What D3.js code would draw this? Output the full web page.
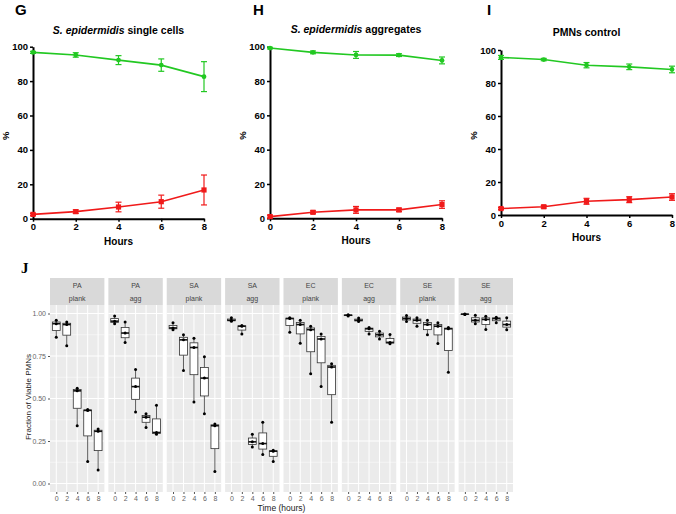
<!DOCTYPE html>
<html>
<head>
<script src="https://d3js.org/d3.v7.min.js"></script>
<style>body{margin:0;background:#fff}</style>
</head>
<body>
<svg width="676" height="514"></svg>
<script>
// ---- data: line panels (G, H, I) ----
var hours = [0, 2, 4, 6, 8];
var yTicks = [0, 20, 40, 60, 80, 100];

var gGreen = [96.7, 95.2, 92.2, 89.3, 82.6];
var gGreenErr = [0.6, 1.3, 2.6, 3.6, 8.7];
var gRed = [2.5, 4.1, 6.8, 9.9, 16.7];
var gRedErr = [0.6, 1.0, 2.8, 3.8, 8.7];

var hGreen = [99.2, 96.7, 95.2, 95.1, 92.0];
var hGreenErr = [0.5, 0.8, 2.0, 0.8, 2.0];
var hRed = [1.0, 3.5, 4.9, 4.9, 8.0];
var hRedErr = [0.8, 0.8, 2.0, 1.0, 2.2];

var iGreen = [95.5, 94.2, 90.8, 89.8, 88.2];
var iGreenErr = [1.2, 0.7, 1.6, 1.7, 2.0];
var iRed = [3.9, 5.0, 8.3, 9.3, 10.9];
var iRedErr = [0.6, 0.8, 1.8, 1.8, 2.0];

// ---- data: panel J, three replicates per time point ----
var facetTop = ["PA", "PA", "SA", "SA", "EC", "EC", "SE", "SE"];
var facetBottom = ["plank", "agg", "plank", "agg", "plank", "agg", "plank", "agg"];
var jTicks = [0, 0.25, 0.5, 0.75, 1];

var paPlank = [[0.86, 0.94, 0.96], [0.81, 0.935, 0.95], [0.34, 0.545, 0.56], [0.13, 0.43, 0.435], [0.08, 0.307, 0.32]];
var paAgg = [[0.94, 0.955, 0.985], [0.83, 0.885, 0.95], [0.42, 0.57, 0.67], [0.33, 0.39, 0.41], [0.29, 0.30, 0.46]];
var saPlank = [[0.905, 0.915, 0.945], [0.665, 0.845, 0.875], [0.48, 0.80, 0.855], [0.41, 0.62, 0.745], [0.07, 0.34, 0.35]];
var saAgg = [[0.955, 0.96, 0.975], [0.88, 0.925, 0.93], [0.215, 0.245, 0.29], [0.17, 0.235, 0.36], [0.13, 0.19, 0.195]];
var ecPlank = [[0.89, 0.97, 0.975], [0.825, 0.935, 0.96], [0.645, 0.905, 0.925], [0.57, 0.85, 0.88], [0.36, 0.685, 0.705]];
var ecAgg = [[0.985, 0.99, 0.992], [0.953, 0.96, 0.974], [0.88, 0.91, 0.918], [0.85, 0.875, 0.895], [0.822, 0.83, 0.876]];
var sePlank = [[0.953, 0.97, 0.988], [0.925, 0.96, 0.975], [0.875, 0.935, 0.96], [0.823, 0.925, 0.945], [0.655, 0.91, 0.918]];
var seAgg = [[0.994, 0.996, 0.997], [0.94, 0.96, 0.99], [0.906, 0.965, 0.984], [0.945, 0.97, 0.978], [0.905, 0.935, 0.975]];
var facetData = [paPlank, paAgg, saPlank, saAgg, ecPlank, ecAgg, sePlank, seAgg];

var svg = d3.select("svg");
svg.append("rect").attr("width", 676).attr("height", 514).attr("fill", "#fff");

var green = "#22c822", red = "#f01a1a";
var sans = "Liberation Sans, Arial, sans-serif";

function linePanel(p) {
  var x = d3.scaleLinear().domain([0, 8]).range([p.left, p.right]);
  var y = d3.scaleLinear().domain([0, 100]).range([p.bottom, p.top]);
  var g = svg.append("g").attr("font-family", sans).attr("font-weight", "bold");

  g.append("text").attr("x", p.letterX).attr("y", 15).attr("font-size", 15).text(p.letter);

  var t = g.append("text").attr("x", (p.left + p.right) / 2 - p.titleShift).attr("y", p.titleY)
    .attr("text-anchor", "middle").attr("font-size", 10.5);
  if (p.italic) t.append("tspan").attr("font-style", "italic").text(p.italic + " ");
  t.append("tspan").text(p.title);

  var xa = g.append("g").attr("transform", "translate(0," + p.bottom + ")")
    .call(d3.axisBottom(x).tickValues(hours).tickSize(3).tickSizeOuter(0).tickPadding(2));
  var ya = g.append("g").attr("transform", "translate(" + p.left + ",0)")
    .call(d3.axisLeft(y).tickValues(yTicks).tickSize(3).tickSizeOuter(0).tickPadding(2));
  [xa, ya].forEach(function (a) {
    a.select(".domain").attr("stroke", "#000").attr("stroke-width", 2);
    a.selectAll(".tick line").attr("stroke", "#000").attr("stroke-width", 1.5);
    a.selectAll(".tick text").attr("fill", "#000").attr("font-size", 9.5)
      .attr("font-family", sans).attr("font-weight", "bold");
  });

  g.append("text").attr("x", (p.left + p.right) / 2).attr("y", p.bottom + 26)
    .attr("text-anchor", "middle").attr("font-size", 10).text("Hours");
  g.append("text").attr("transform", "translate(" + (p.left - 24) + "," + ((p.top + p.bottom) / 2 + 3) + ") rotate(-90)")
    .attr("text-anchor", "middle").attr("font-size", 9.5).text("%");

  [[p.green, p.greenErr, green, "circle"], [p.red, p.redErr, red, "square"]].forEach(function (s) {
    var vals = s[0], errs = s[1], col = s[2];
    var pts = hours.map(function (h, i) { return { h: h, v: vals[i], e: errs[i] }; });
    g.append("path").datum(pts).attr("fill", "none").attr("stroke", col).attr("stroke-width", 1.6)
      .attr("d", d3.line().x(function (d) { return x(d.h); }).y(function (d) { return y(d.v); }));
    var eb = g.append("g").attr("stroke", col).attr("stroke-width", 1.2);
    pts.forEach(function (d) {
      var cx = x(d.h);
      eb.append("line").attr("x1", cx).attr("x2", cx).attr("y1", y(d.v - d.e)).attr("y2", y(d.v + d.e));
      [d.v - d.e, d.v + d.e].forEach(function (v) {
        eb.append("line").attr("x1", cx - 3).attr("x2", cx + 3).attr("y1", y(v)).attr("y2", y(v));
      });
    });
    if (s[3] === "circle") {
      g.selectAll(null).data(pts).join("circle").attr("cx", function (d) { return x(d.h); })
        .attr("cy", function (d) { return y(d.v); }).attr("r", 2.4).attr("fill", col);
    } else {
      g.selectAll(null).data(pts).join("rect").attr("x", function (d) { return x(d.h) - 2.6; })
        .attr("y", function (d) { return y(d.v) - 2.6; }).attr("width", 5.2).attr("height", 5.2).attr("fill", col);
    }
  });
}

linePanel({ letter: "G", letterX: 15, left: 33, right: 204, top: 46.7, bottom: 218.7, titleY: 33.5, titleShift: 0,
  italic: "S. epidermidis", title: "single cells", green: gGreen, greenErr: gGreenErr, red: gRed, redErr: gRedErr });
linePanel({ letter: "H", letterX: 253, left: 270, right: 442, top: 46.7, bottom: 218.3, titleY: 33, titleShift: 0,
  italic: "S. epidermidis", title: "aggregates", green: hGreen, greenErr: hGreenErr, red: hRed, redErr: hRedErr });
linePanel({ letter: "I", letterX: 487, left: 501, right: 672, top: 50, bottom: 215, titleY: 36, titleShift: 0,
  italic: null, title: "PMNs control", green: iGreen, greenErr: iGreenErr, red: iRed, redErr: iRedErr });

// ---- panel J: faceted box plots ----
var jg = svg.append("g").attr("font-family", sans);
jg.append("text").attr("x", 21).attr("y", 273).attr("font-family", "Liberation Serif, Times New Roman, serif")
  .attr("font-weight", "bold").attr("font-size", 15).text("J");

var fx = d3.scaleBand().domain(d3.range(8)).range([50, 513]).paddingInner(0.068);
var jy = d3.scaleLinear().domain([-0.05, 1.05]).range([492, 305]);
var stripTop = 278;

facetData.forEach(function (groups, k) {
  var x0 = fx(k), bw = fx.bandwidth();
  var x = d3.scalePoint().domain(hours).range([x0, x0 + bw]).padding(0.6);
  var boxW = x.step() * 0.75;
  var f = jg.append("g");

  f.append("rect").attr("x", x0).attr("y", stripTop).attr("width", bw).attr("height", 305 - stripTop).attr("fill", "#d9d9d9");
  f.append("text").attr("x", x0 + bw / 2).attr("y", 288).attr("text-anchor", "middle").attr("font-size", 7).attr("fill", "#444").text(facetTop[k]);
  f.append("text").attr("x", x0 + bw / 2).attr("y", 301).attr("text-anchor", "middle").attr("font-size", 7).attr("fill", "#444").text(facetBottom[k]);

  f.append("rect").attr("x", x0).attr("y", 305).attr("width", bw).attr("height", 187).attr("fill", "#ebebeb");
  [0.125, 0.375, 0.625, 0.875].forEach(function (v) {
    f.append("line").attr("x1", x0).attr("x2", x0 + bw).attr("y1", jy(v)).attr("y2", jy(v)).attr("stroke", "#fff").attr("stroke-width", 0.5);
  });
  jTicks.forEach(function (v) {
    f.append("line").attr("x1", x0).attr("x2", x0 + bw).attr("y1", jy(v)).attr("y2", jy(v)).attr("stroke", "#fff").attr("stroke-width", 1);
  });
  hours.forEach(function (h) {
    f.append("line").attr("x1", x(h)).attr("x2", x(h)).attr("y1", 305).attr("y2", 492).attr("stroke", "#fff").attr("stroke-width", 1);
  });

  var xa = f.append("g").attr("transform", "translate(0,492)")
    .call(d3.axisBottom(x).tickSize(2).tickPadding(2));
  xa.select(".domain").remove();
  xa.selectAll(".tick line").attr("stroke", "#555");
  xa.selectAll(".tick text").attr("fill", "#666").attr("font-size", 7).attr("font-family", sans);

  groups.forEach(function (vals, i) {
    var s = vals.slice().sort(d3.ascending);
    var q1 = d3.quantile(s, 0.25), med = d3.quantile(s, 0.5), q3 = d3.quantile(s, 0.75);
    var iqr = q3 - q1;
    var lo = d3.min(s.filter(function (v) { return v >= q1 - 1.5 * iqr; }));
    var hi = d3.max(s.filter(function (v) { return v <= q3 + 1.5 * iqr; }));
    var cx = x(hours[i]);
    f.append("line").attr("x1", cx).attr("x2", cx).attr("y1", jy(hi)).attr("y2", jy(q3)).attr("stroke", "#333").attr("stroke-width", 0.8);
    f.append("line").attr("x1", cx).attr("x2", cx).attr("y1", jy(q1)).attr("y2", jy(lo)).attr("stroke", "#333").attr("stroke-width", 0.8);
    f.append("rect").attr("x", cx - boxW / 2).attr("y", jy(q3)).attr("width", boxW).attr("height", Math.max(0.01, jy(q1) - jy(q3)))
      .attr("fill", "#fff").attr("stroke", "#333").attr("stroke-width", 0.8);
    f.append("line").attr("x1", cx - boxW / 2).attr("x2", cx + boxW / 2).attr("y1", jy(med)).attr("y2", jy(med)).attr("stroke", "#111").attr("stroke-width", 1.6);
    f.selectAll(null).data(s).join("circle").attr("cx", cx).attr("cy", function (d) { return jy(d); }).attr("r", 1.5).attr("fill", "#000");
  });
});

var ya = jg.append("g").attr("transform", "translate(50,0)")
  .call(d3.axisLeft(jy).tickValues(jTicks).tickFormat(d3.format(".2f")).tickSize(2).tickPadding(2));
ya.select(".domain").remove();
ya.selectAll(".tick line").attr("stroke", "#555");
ya.selectAll(".tick text").attr("fill", "#666").attr("font-size", 7).attr("font-family", sans);

jg.append("text").attr("transform", "translate(31,397) rotate(-90)").attr("text-anchor", "middle")
  .attr("font-size", 8).attr("fill", "#222").text("Fraction of Viable PMNs");
jg.append("text").attr("x", 281.5).attr("y", 511).attr("text-anchor", "middle")
  .attr("font-size", 8.5).attr("fill", "#222").text("Time (hours)");
</script>
</body>
</html>
